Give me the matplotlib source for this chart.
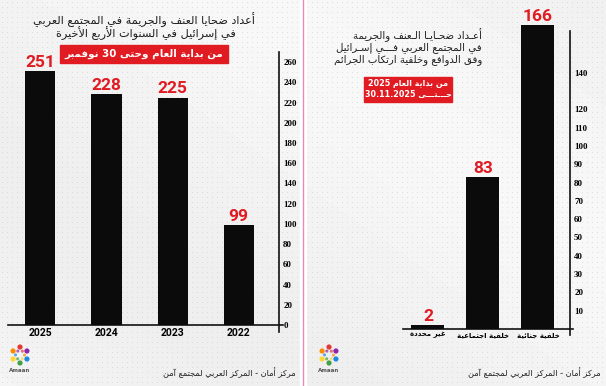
import re
import numpy as np
import matplotlib
matplotlib.use('Agg')
import matplotlib.pyplot as plt
from matplotlib.patches import Rectangle

W, H = 606, 386

# ---------------- data ----------------
years = ['2022', '2023', '2024', '2025']
victims_by_year = [99, 225, 228, 251]
left_yticks = [0, 20, 40, 60, 80, 100, 120, 140, 160, 180, 200, 220, 240, 260]

motives = ['خلفية جنائية', 'خلفية اجتماعية', 'غير محددة']
victims_by_motive = [166, 83, 2]
right_yticks = [10, 20, 30, 40, 50, 60, 70, 80, 90, 100, 110, 120, 140]

left_title = ['أعداد ضحايا العنف والجريمة في المجتمع العربي',
              'في إسرائيل في السنوات الأربع الأخيرة']
left_period = 'من بداية العام وحتى 30 نوفمبر'
right_title = ['أعـداد ضحـايـا الـعنف والجريمة',
               'في المجتمع العربي فـــي إسـرائيل',
               'وفق الدوافع وخلفية ارتكاب الجرائم']
right_period = ['من بداية العام 2025', 'حـــتـــى 30.11.2025']
source = 'مركز أمان - المركز العربي لمجتمع آمن'

RED = '#e01b22'

# ------------- minimal Arabic shaping (presentation forms + RTL order) -------------
_DUAL = {'ئ': 0xFE89, 'ب': 0xFE8F, 'ت': 0xFE95, 'ث': 0xFE99, 'ج': 0xFE9D, 'ح': 0xFEA1,
         'خ': 0xFEA5, 'س': 0xFEB1, 'ش': 0xFEB5, 'ص': 0xFEB9, 'ض': 0xFEBD, 'ط': 0xFEC1,
         'ظ': 0xFEC5, 'ع': 0xFEC9, 'غ': 0xFECD, 'ف': 0xFED1, 'ق': 0xFED5, 'ك': 0xFED9,
         'ل': 0xFEDD, 'م': 0xFEE1, 'ن': 0xFEE5, 'ه': 0xFEE9, 'ي': 0xFEF1}
_RIGHT = {'آ': 0xFE81, 'أ': 0xFE83, 'ؤ': 0xFE85, 'إ': 0xFE87, 'ا': 0xFE8D, 'ة': 0xFE93,
          'د': 0xFEA9, 'ذ': 0xFEAB, 'ر': 0xFEAD, 'ز': 0xFEAF, 'و': 0xFEED, 'ى': 0xFEEF}
_LAMALEF = {'آ': 0xFEF5, 'أ': 0xFEF7, 'إ': 0xFEF9, 'ا': 0xFEFB}
_TATWEEL = 'ـ'


def ar(text):
    units = []
    i = 0
    while i < len(text):
        c = text[i]
        if c == 'ل' and i + 1 < len(text) and text[i + 1] in _LAMALEF:
            units.append(('L', text[i + 1]))
            i += 2
            continue
        if c in _DUAL:
            units.append(('D', c))
        elif c in _RIGHT:
            units.append(('R', c))
        elif c == _TATWEEL:
            units.append(('T', c))
        else:
            units.append(('N', c))
        i += 1
    out = []
    for j, (k, c) in enumerate(units):
        pj = j > 0 and units[j - 1][0] in ('D', 'T')
        nj = j + 1 < len(units) and units[j + 1][0] in ('D', 'R', 'L', 'T')
        if k == 'D':
            b = _DUAL[c]
            out.append(chr(b + (3 if (pj and nj) else 1 if pj else 2 if nj else 0)))
        elif k == 'R':
            out.append(chr(_RIGHT[c] + (1 if pj else 0)))
        elif k == 'L':
            out.append(chr(_LAMALEF[c] + (1 if pj else 0)))
        else:
            out.append(c)
    s = ''.join(out)[::-1]
    s = re.sub(r'[0-9][0-9.]*[0-9]|[0-9]', lambda m: m.group(0)[::-1], s)
    return s


AR_FONT = ['DejaVu Sans']

# ---------------- figure & background ----------------
fig = plt.figure(figsize=(W / 100, H / 100), dpi=100)
bg = fig.add_axes([0, 0, 1, 1], zorder=-10)
bg.set_xlim(0, W)
bg.set_ylim(H, 0)
bg.axis('off')

yy, xx = np.mgrid[0:H, 0:W]
img = 0.935 + 0.035 * (0.5 + 0.5 * np.sin((xx * 0.7 - yy) / 110.0))
bg.imshow(img, cmap='gray', vmin=0, vmax=1, extent=(0, W, H, 0), aspect='auto',
          interpolation='bilinear')
gx, gy = np.meshgrid(np.arange(2, W, 5), np.arange(2, H, 5))
bg.scatter(gx.ravel(), gy.ravel(), s=0.35, color='#c9c9c9', alpha=0.55, linewidths=0)

# separator between panels
bg.add_patch(Rectangle((300, 0), 6, H, color='white', zorder=2))
bg.plot([303, 303], [0, H], color='#e58cb6', lw=1, zorder=3)

# ---------------- titles / boxes ----------------
bg.text(144, 19.5, ar(left_title[0]), ha='center', va='center', fontsize=8.1,
        family=AR_FONT, color='#1e1e1e', zorder=5)
bg.text(146, 33.5, ar(left_title[1]), ha='center', va='center', fontsize=8.1,
        family=AR_FONT, color='#1e1e1e', zorder=5)
bg.add_patch(Rectangle((60, 45), 168, 18, color=RED, zorder=4))
bg.text(144, 54, ar(left_period), ha='center', va='center', fontsize=7.4,
        family=AR_FONT, fontweight='bold', color='white', zorder=5)

for k, line in enumerate(right_title):
    bg.text(482, 35 + 12.5 * k, ar(line), ha='right', va='center', fontsize=7.3,
            family=AR_FONT, color='#1e1e1e', zorder=5)
bg.add_patch(Rectangle((364, 77), 88, 25, color=RED, zorder=4))
for k, line in enumerate(right_period):
    bg.text(408, 84 + 11 * k, ar(line), ha='center', va='center', fontsize=5.8,
            family=AR_FONT, fontweight='bold', color='white', zorder=5)

# footer
bg.text(296, 373, ar(source), ha='right', va='center', fontsize=5.9,
        family=AR_FONT, color='#222222', zorder=5)
bg.text(601, 373, ar(source), ha='right', va='center', fontsize=5.9,
        family=AR_FONT, color='#222222', zorder=5)

# logos
logo_cols = ['#e53935', '#fb8c00', '#fdd835', '#43a047', '#1e88e5', '#8e24aa']
for cx in (20, 329):
    ang = np.linspace(0, 2 * np.pi, 7)[:-1] + np.pi / 2
    bg.scatter(cx + 8 * np.cos(ang), 355 - 8 * np.sin(ang), s=14, c=logo_cols,
               zorder=5, linewidths=0)
    bg.scatter(cx + 4.5 * np.cos(ang + 0.5), 355 - 4.5 * np.sin(ang + 0.5), s=5,
               c=logo_cols[::-1], zorder=5, linewidths=0, alpha=0.7)
    bg.text(cx, 371, 'Amaan', ha='center', va='center', fontsize=4, color='#555555',
            fontweight='bold', zorder=5)


def px_axes(x0, x1, ytop, ybot):
    return fig.add_axes([x0 / W, 1 - ybot / H, (x1 - x0) / W, (ybot - ytop) / H])


def style(ax):
    ax.set_facecolor('none')
    for s in ('top', 'left'):
        ax.spines[s].set_visible(False)
    for s in ('bottom', 'right'):
        ax.spines[s].set_color('#111111')
        ax.spines[s].set_linewidth(1.2)
    ax.yaxis.tick_right()
    ax.tick_params(axis='y', length=0, pad=3)
    ax.tick_params(axis='x', length=0, pad=2)


# ---------------- left chart ----------------
axL = px_axes(8, 279, 52, 325)
style(axL)
xl = np.arange(len(years))
axL.bar(xl, victims_by_year, width=0.455, color='#0b0b0b', clip_on=False, zorder=3)
axL.set_xlim(3.49, -0.61)
axL.set_ylim(0, 270)
axL.spines['bottom'].set_bounds(3.49, -0.67)
axL.spines['right'].set_bounds(-7, 270)
axL.set_yticks(left_yticks, labels=[str(t) for t in left_yticks],
               fontfamily='Liberation Serif', fontweight='bold', fontsize=6.5)
axL.set_xticks(xl, labels=years, fontfamily='Roboto', fontweight='bold', fontsize=7.5)
for x, v in zip(xl, victims_by_year):
    axL.annotate(str(v), (x, v), xytext=(0, 1), textcoords='offset points',
                 ha='center', va='bottom', color=RED, fontsize=12.5,
                 fontfamily='Roboto', fontweight='bold', annotation_clip=False)

# ---------------- right chart ----------------
axR = px_axes(403, 570, 31, 329)
style(axR)
xr = np.arange(len(motives))
axR.bar(xr, victims_by_motive, width=0.6, color='#0b0b0b', clip_on=False, zorder=3)
axR.set_xlim(2.4545, -0.582)
axR.set_ylim(0, 162.8)
axR.spines['bottom'].set_bounds(2.4545, -0.64)
axR.spines['right'].set_bounds(-3.5, 162.8)
axR.set_yticks(right_yticks, labels=[str(t) for t in right_yticks],
               fontfamily='Liberation Serif', fontweight='bold', fontsize=6.5)
axR.set_xticks(xr, labels=[ar(m) for m in motives], fontfamily=AR_FONT,
               fontweight='bold', fontsize=5.0)
for x, v in zip(xr, victims_by_motive):
    axR.annotate(str(v), (x, v), xytext=(0, 1), textcoords='offset points',
                 ha='center', va='bottom', color=RED, fontsize=12.5,
                 fontfamily='Roboto', fontweight='bold', annotation_clip=False)

fig.savefig('out.png', dpi=100)
